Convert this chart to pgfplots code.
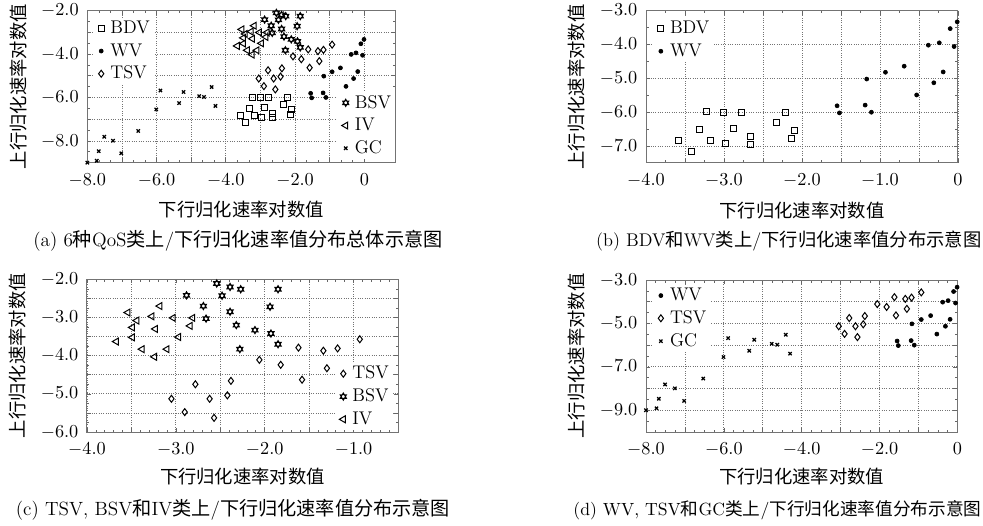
\documentclass[border=0pt]{standalone}
\usepackage{fontspec}
\usepackage{pgfplots}
\usepackage{pgfplotstable}
\pgfplotsset{compat=1.18}
\newfontfamily\cjk{Noto Sans CJK SC}

\pgfdeclareplotmark{hexagram}{%
  \pgfpathmoveto{\pgfqpoint{0pt}{\pgfplotmarksize}}%
  \pgfpathlineto{\pgfqpointpolar{210}{\pgfplotmarksize}}%
  \pgfpathlineto{\pgfqpointpolar{330}{\pgfplotmarksize}}%
  \pgfpathclose
  \pgfpathmoveto{\pgfqpoint{0pt}{-\pgfplotmarksize}}%
  \pgfpathlineto{\pgfqpointpolar{30}{\pgfplotmarksize}}%
  \pgfpathlineto{\pgfqpointpolar{150}{\pgfplotmarksize}}%
  \pgfpathclose
  \pgfusepathqstroke
}

\pgfplotstableread{
x y
-3.58 -6.85
-3.42 -7.17
-3.32 -6.50
-3.22 -5.99
-3.17 -6.85
-3.01 -6.01
-2.98 -6.92
-2.88 -6.47
-2.77 -6.02
-2.66 -6.72
-2.66 -6.94
-2.33 -6.31
-2.21 -6.00
-2.13 -6.78
-2.09 -6.54
}\bdv

\pgfplotstableread{
x y
-1.55 -5.81
-1.52 -6.02
-1.17 -5.02
-1.19 -5.79
-1.11 -6.00
-0.93 -4.82
-0.69 -4.64
-0.53 -5.49
-0.38 -4.02
-0.31 -5.13
-0.24 -3.95
-0.19 -4.81
-0.10 -3.53
-0.05 -4.06
-0.01 -3.33
}\wv

\pgfplotstableread{
x y
-2.78 -4.75
-3.05 -5.13
-2.90 -5.48
-2.62 -5.13
-2.57 -5.63
-2.42 -5.04
-2.38 -4.66
-2.06 -4.11
-1.82 -4.24
-1.62 -3.79
-1.58 -4.63
-1.34 -3.87
-1.30 -4.33
-1.18 -3.81
-0.93 -3.57
}\tsv

\pgfplotstableread{
x y
-2.54 -2.11
-2.39 -2.20
-2.27 -2.26
-2.48 -2.43
-2.88 -2.42
-2.69 -2.70
-2.39 -2.85
-2.66 -3.03
-2.32 -3.20
-2.28 -3.83
-1.85 -2.26
-1.94 -2.72
-2.11 -3.33
-1.93 -3.42
-1.85 -3.70
}\bsv

\pgfplotstableread{
x y
-3.54 -2.87
-3.44 -3.08
-3.49 -3.26
-3.49 -3.52
-3.67 -3.63
-3.38 -3.83
-3.24 -4.03
-3.27 -2.97
-3.23 -3.30
-3.18 -2.70
-3.10 -3.83
-3.03 -3.01
-2.97 -3.51
-2.81 -3.01
-2.84 -3.22
}\iv

\pgfplotstableread{
x y
-8.00 -9.00
-7.73 -8.91
-7.67 -8.47
-7.51 -7.81
-7.26 -7.99
-7.02 -8.57
-6.53 -7.54
-6.01 -6.55
-5.89 -5.68
-5.35 -6.26
-5.22 -5.75
-4.77 -5.94
-4.63 -5.98
-4.41 -5.52
-4.30 -6.39
}\gc

\pgfplotsset{
  mymarks/.style={only marks,
    legend image code/.code={\path[draw=none,fill=none] (0cm,-0.05cm) rectangle (0.28cm,0.05cm);
      \draw[mark repeat=2,mark phase=2,##1] plot coordinates {(0cm,0cm) (0.14cm,0cm) (0.28cm,0cm)};}},
  sbdv/.style={mymarks, black, mark=square, mark size=1.8pt, mark options={line width=0.6pt}},
  swv/.style={mymarks, black, mark=*, mark size=1.2pt},
  stsv/.style={mymarks, black, mark=diamond, mark size=2.1pt, mark options={line width=0.6pt}},
  sbsv/.style={mymarks, black, mark=hexagram, mark size=2.2pt, mark options={line width=0.55pt}},
  siv/.style={mymarks, black, mark=triangle, mark size=2.4pt, mark options={line width=0.6pt, rotate=90}},
  sgc/.style={mymarks, black, mark=x, mark size=1.4pt, mark options={line width=0.75pt}},
  base/.style={
    scale only axis, anchor=south west,
    axis line style={black!55, line width=0.6pt},
    tick style={black!60, line width=0.4pt},
    major tick length=2.5pt, minor tick length=1.5pt,
    grid=major, major grid style={densely dotted, black!55, line width=0.5pt},
    tick label style={font=\fontsize{10.5}{12}\selectfont, inner sep=1pt},
    xticklabel style={yshift=-5.5pt}, yticklabel style={xshift=-4pt},
    label style={font=\fontsize{11}{13}\selectfont\cjk},
    ylabel style={at={(axis description cs:-0.222,0.5)}, anchor=center},
    xlabel={下行归化速率对数值},
    ylabel={上行归化速率对数值},
    legend cell align=left,
    legend style={draw=none, fill=white, inner sep=1pt, row sep=2.5pt,
      font=\fontsize{11}{13}\selectfont,
      nodes={inner ysep=1pt, inner xsep=1.5pt}},
  },
}

\begin{document}
\begin{tikzpicture}
\useasboundingbox (0pt,0pt) rectangle (589.8pt,-315.6pt);

% ---------- (a) ----------
\begin{axis}[base, at={(52.4pt,-97.6pt)}, width=184.9pt, height=91.3pt,
  xmin=-8, xmax=0.9, ymin=-9, ymax=-2,
  xtick={-8,-7,-6,-5,-4,-3,-2,-1,0},
  xticklabels={$-8.0$,,$-6.0$,,$-4.0$,,$-2.0$,,$0$},
  ytick={-9,-8,-7,-6,-5,-4,-3,-2},
  yticklabels={,$-8.0$,,$-6.0$,,$-4.0$,,$-2.0$},
  minor x tick num=2, minor y tick num=1,
  xlabel style={at={(axis description cs:0.5,0)}, anchor=center, yshift=-28.4pt},
  legend style={at={(0.017,0.955)}, anchor=north west}]
\addplot[sbdv] table[x=x,y=y] {\bdv};
\addplot[swv] table[x=x,y=y] {\wv};
\addplot[stsv] table[x=x,y=y] {\tsv};
\legend{BDV,WV,TSV}
\end{axis}
\begin{axis}[base, hide axis, at={(52.4pt,-97.6pt)}, width=184.9pt, height=91.3pt,
  xmin=-8, xmax=0.9, ymin=-9, ymax=-2, xlabel={}, ylabel={},
  legend style={at={(1.0,0.02)}, anchor=south east}]
\addplot[sbsv] table[x=x,y=y] {\bsv};
\addplot[siv] table[x=x,y=y] {\iv};
\addplot[sgc] table[x=x,y=y] {\gc};
\legend{BSV,IV,GC}
\end{axis}

% ---------- (b) ----------
\begin{axis}[base, at={(387.6pt,-97.8pt)}, width=187.2pt, height=91.4pt,
  xmin=-4, xmax=0, ymin=-7.5, ymax=-3,
  xtick={-4,-3.5,-3,-2.5,-2,-1.5,-1,-0.5,0},
  xticklabels={$-4.0$,,$-3.0$,,$-2.0$,,$-1.0$,,$0$},
  ytick={-7,-6,-5,-4,-3},
  yticklabels={$-7.0$,$-6.0$,$-5.0$,$-4.0$,$-3.0$},
  minor x tick num=1, minor y tick num=1,
  xlabel style={at={(axis description cs:0.5,0)}, anchor=center, yshift=-28.4pt},
  legend style={at={(0.02,0.955)}, anchor=north west}]
\addplot[sbdv] table[x=x,y=y] {\bdv};
\addplot[swv] table[x=x,y=y] {\wv};
\legend{BDV,WV}
\end{axis}

% ---------- (c) ----------
\begin{axis}[base, at={(52.2pt,-259.2pt)}, width=186.6pt, height=91.6pt,
  xmin=-4, xmax=-0.5, ymin=-6, ymax=-2,
  xtick={-4,-3.5,-3,-2.5,-2,-1.5,-1,-0.5},
  xticklabels={$-4.0$,,$-3.0$,,$-2.0$,,$-1.0$,},
  ytick={-6,-5.5,-5,-4.5,-4,-3.5,-3,-2.5,-2},
  yticklabels={$-6.0$,,$-5.0$,,$-4.0$,,$-3.0$,,$-2.0$},
  minor x tick num=4, minor y tick num=1,
  xlabel style={at={(axis description cs:0.5,0)}, anchor=center, yshift=-27pt},
  legend style={at={(0.985,0.01)}, anchor=south east}]
\addplot[stsv] table[x=x,y=y] {\tsv};
\addplot[sbsv] table[x=x,y=y] {\bsv};
\addplot[siv] table[x=x,y=y] {\iv};
\legend{TSV,BSV,IV}
\end{axis}

% ---------- (d) ----------
\begin{axis}[base, at={(387.6pt,-259.2pt)}, width=186.9pt, height=91.2pt,
  xmin=-8, xmax=0, ymin=-10, ymax=-3,
  xtick={-8,-7,-6,-5,-4,-3,-2,-1,0},
  xticklabels={$-8.0$,,$-6.0$,,$-4.0$,,$-2.0$,,$0$},
  ytick={-10,-9,-8,-7,-6,-5,-4,-3},
  yticklabels={,$-9.0$,,$-7.0$,,$-5.0$,,$-3.0$},
  minor x tick num=3, minor y tick num=1,
  xlabel style={at={(axis description cs:0.5,0)}, anchor=center, yshift=-27pt},
  legend style={at={(0.02,0.971)}, anchor=north west}]
\addplot[swv] table[x=x,y=y] {\wv};
\addplot[stsv] table[x=x,y=y] {\tsv};
\addplot[sgc] table[x=x,y=y] {\gc};
\legend{WV,TSV,GC}
\end{axis}

% ---------- captions ----------
\node[font=\fontsize{11.5}{13}\selectfont, inner sep=0pt] at (142.8pt,-144.6pt)
  {(a) 6{\cjk 种}QoS{\cjk 类上}/{\cjk 下行归化速率值分布总体示意图}};
\node[font=\fontsize{11}{13}\selectfont, inner sep=0pt, anchor=east] at (589.0pt,-144.6pt)
  {(b) BDV{\cjk 和}WV{\cjk 类上}/{\cjk 下行归化速率值分布示意图}};
\node[font=\fontsize{11.5}{13}\selectfont, inner sep=0pt] at (139.8pt,-306pt)
  {(c) TSV, BSV{\cjk 和}IV{\cjk 类上}/{\cjk 下行归化速率值分布示意图}};
\node[font=\fontsize{10.6}{13}\selectfont, inner sep=0pt, anchor=east] at (589.0pt,-306pt)
  {(d) WV, TSV{\cjk 和}GC{\cjk 类上}/{\cjk 下行归化速率值分布示意图}};
\end{tikzpicture}
\end{document}
